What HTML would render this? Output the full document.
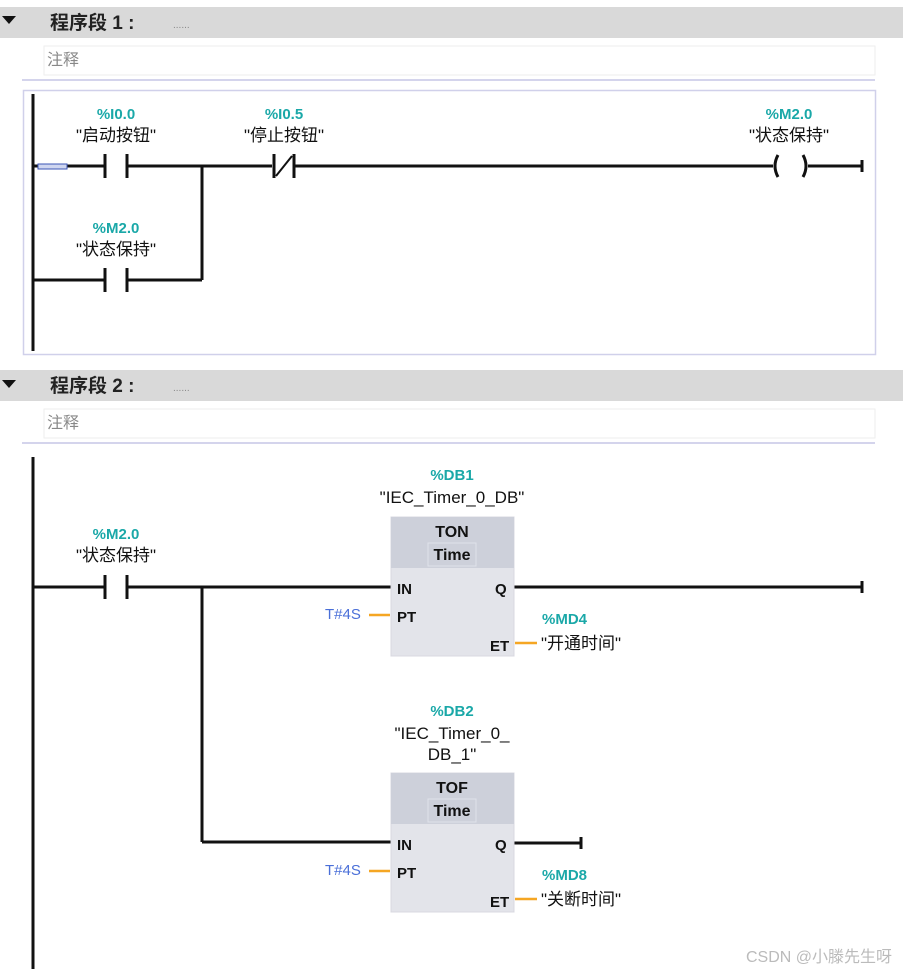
<!DOCTYPE html>
<html><head><meta charset="utf-8"><style>
html,body{margin:0;padding:0;background:#fff;width:903px;height:972px;overflow:hidden}
text{font-family:"Liberation Sans","Noto Sans CJK SC",sans-serif}
.t{fill:#1aa8a8;font-weight:bold;font-size:15px;text-anchor:middle}
.l{fill:#111;font-size:17px;text-anchor:middle}
.p{fill:#111;font-size:15px;font-weight:bold}
</style></head><body>
<svg width="903" height="972" xmlns="http://www.w3.org/2000/svg">
<rect x="0" y="7" width="903" height="31" fill="#d9d9d9"/>
<polygon points="2,16 16,16 9,24" fill="#111"/>
<text x="50" y="29" font-size="19" font-weight="bold" fill="#222">程序段 1 :</text>
<text x="173" y="28" font-size="10" fill="#888">......</text>
<rect x="44" y="46" width="831" height="29" fill="#fff" stroke="#eee"/>
<text x="47" y="65" font-size="16" fill="#888">注释</text>
<line x1="22" y1="80" x2="875" y2="80" stroke="#d4d4ec" stroke-width="2"/>
<rect x="23.5" y="90.5" width="852" height="264" fill="#fff" stroke="#d0d0ea" stroke-width="1.5"/>
<g stroke="#111" stroke-width="3" fill="none">
<line x1="33" y1="94" x2="33" y2="351"/>
<line x1="33" y1="166" x2="105" y2="166"/>
<line x1="105" y1="154" x2="105" y2="178"/>
<line x1="127" y1="154" x2="127" y2="178"/>
<line x1="127" y1="166" x2="272" y2="166"/>
<line x1="202" y1="166" x2="202" y2="280"/>
<line x1="33" y1="280" x2="105" y2="280"/>
<line x1="105" y1="268" x2="105" y2="292"/>
<line x1="127" y1="268" x2="127" y2="292"/>
<line x1="127" y1="280" x2="202" y2="280"/>
<line x1="274" y1="154" x2="274" y2="178"/>
<line x1="294" y1="154" x2="294" y2="178"/>
<line x1="276" y1="176" x2="292" y2="156" stroke-width="2"/>
<line x1="294" y1="166" x2="773" y2="166"/>
<path d="M778,155 Q772,166 778,177"/>
<path d="M803,155 Q809,166 803,177"/>
<line x1="808" y1="166" x2="862" y2="166"/>
<line x1="862" y1="160" x2="862" y2="172"/>
</g>
<rect x="38" y="164" width="29" height="5" fill="#cfd6f0" stroke="#3b55b5" stroke-width="1"/>
<text class="t" x="116" y="119">%I0.0</text>
<text class="l" x="116" y="141">"启动按钮"</text>
<text class="t" x="284" y="119">%I0.5</text>
<text class="l" x="284" y="141">"停止按钮"</text>
<text class="t" x="789" y="119">%M2.0</text>
<text class="l" x="789" y="141">"状态保持"</text>
<text class="t" x="116" y="233">%M2.0</text>
<text class="l" x="116" y="255">"状态保持"</text>

<rect x="0" y="370" width="903" height="31" fill="#d9d9d9"/>
<polygon points="2,380 16,380 9,388" fill="#111"/>
<text x="50" y="392" font-size="19" font-weight="bold" fill="#222">程序段 2 :</text>
<text x="173" y="391" font-size="10" fill="#888">......</text>
<rect x="44" y="409" width="831" height="29" fill="#fff" stroke="#eee"/>
<text x="47" y="428" font-size="16" fill="#888">注释</text>
<line x1="22" y1="443" x2="875" y2="443" stroke="#d4d4ec" stroke-width="2"/>

<g stroke="#111" stroke-width="3" fill="none">
<line x1="33" y1="457" x2="33" y2="969"/>
<line x1="33" y1="587" x2="105" y2="587"/>
<line x1="105" y1="575" x2="105" y2="599"/>
<line x1="127" y1="575" x2="127" y2="599"/>
<line x1="127" y1="587" x2="391" y2="587"/>
<line x1="202" y1="587" x2="202" y2="842"/>
<line x1="202" y1="842" x2="391" y2="842"/>
<line x1="514" y1="587" x2="862" y2="587"/>
<line x1="862" y1="581" x2="862" y2="593"/>
<line x1="514" y1="843" x2="581" y2="843"/>
<line x1="581" y1="837" x2="581" y2="849"/>
</g>
<text class="t" x="116" y="539">%M2.0</text>
<text class="l" x="116" y="561">"状态保持"</text>

<text class="t" x="452" y="480">%DB1</text>
<text class="l" x="452" y="503" font-size="16">"IEC_Timer_0_DB"</text>
<rect x="391" y="517" width="123" height="139" fill="#e3e4ea" stroke="#d8d8e0"/>
<rect x="391" y="517" width="123" height="51" fill="#cdd0da"/>
<text x="452" y="537" font-size="16" font-weight="bold" text-anchor="middle" fill="#111">TON</text>
<rect x="428" y="543" width="48" height="23" fill="#cdd0da" stroke="#e0e2ea"/>
<text x="452" y="560" font-size="16" font-weight="bold" text-anchor="middle" fill="#111">Time</text>
<text class="p" x="397" y="594">IN</text>
<text class="p" x="495" y="594">Q</text>
<text class="p" x="397" y="622">PT</text>
<text class="p" x="490" y="651">ET</text>
<line x1="369" y1="615" x2="390" y2="615" stroke="#f5a623" stroke-width="2.5"/>
<line x1="515" y1="643" x2="537" y2="643" stroke="#f5a623" stroke-width="2.5"/>
<text x="325" y="619" font-size="15" fill="#4a6fd8">T#4S</text>
<text class="t" x="542" y="624" style="text-anchor:start">%MD4</text>
<text class="l" x="541" y="649" style="text-anchor:start">"开通时间"</text>

<text class="t" x="452" y="716">%DB2</text>
<text class="l" x="452" y="739" font-size="16">"IEC_Timer_0_</text>
<text class="l" x="452" y="760" font-size="16">DB_1"</text>
<rect x="391" y="773" width="123" height="139" fill="#e3e4ea" stroke="#d8d8e0"/>
<rect x="391" y="773" width="123" height="51" fill="#cdd0da"/>
<text x="452" y="793" font-size="16" font-weight="bold" text-anchor="middle" fill="#111">TOF</text>
<rect x="428" y="799" width="48" height="23" fill="#cdd0da" stroke="#e0e2ea"/>
<text x="452" y="816" font-size="16" font-weight="bold" text-anchor="middle" fill="#111">Time</text>
<text class="p" x="397" y="850">IN</text>
<text class="p" x="495" y="850">Q</text>
<text class="p" x="397" y="878">PT</text>
<text class="p" x="490" y="907">ET</text>
<line x1="369" y1="871" x2="390" y2="871" stroke="#f5a623" stroke-width="2.5"/>
<line x1="515" y1="899" x2="537" y2="899" stroke="#f5a623" stroke-width="2.5"/>
<text x="325" y="875" font-size="15" fill="#4a6fd8">T#4S</text>
<text class="t" x="542" y="880" style="text-anchor:start">%MD8</text>
<text class="l" x="541" y="905" style="text-anchor:start">"关断时间"</text>

<text x="746" y="962" font-size="16" fill="#bbb">CSDN @小滕先生呀</text>
</svg>
</body></html>
